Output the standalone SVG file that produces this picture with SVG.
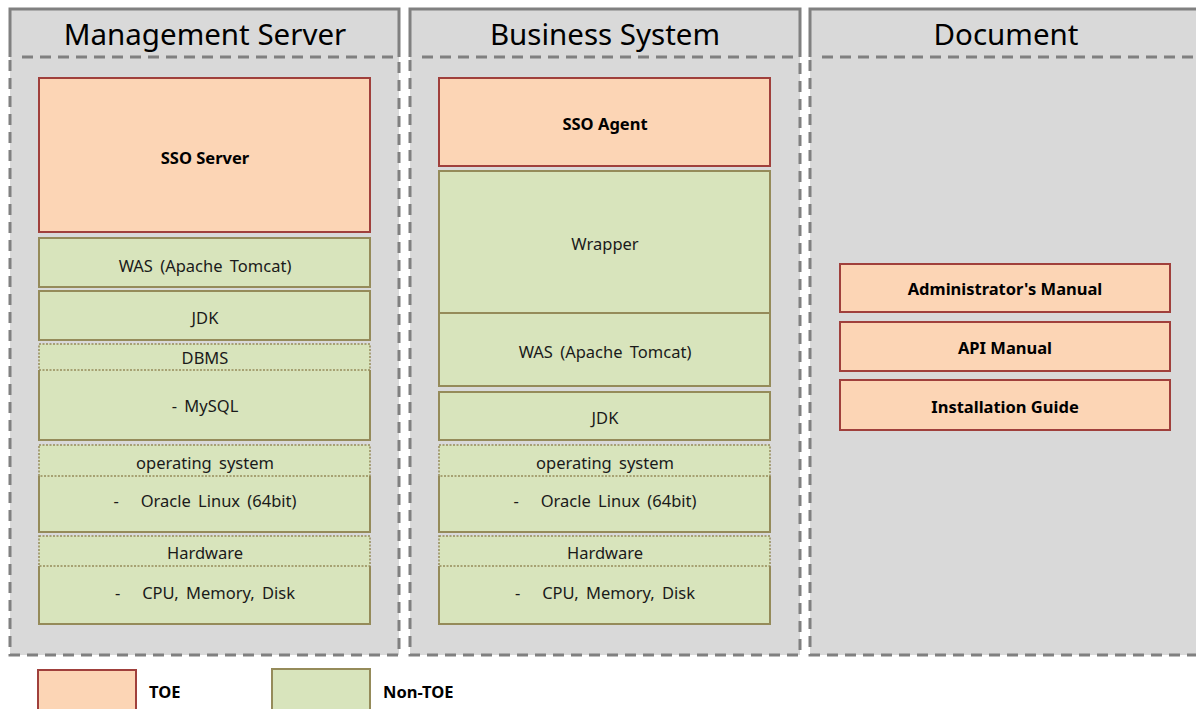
<svg xmlns="http://www.w3.org/2000/svg" width="1196" height="709" viewBox="0 0 1196 709">
  <defs>
    <style>
      .panel { fill: #d9d9d9; }
      .solid { fill: none; stroke: #808080; stroke-width: 3; }
      .dash { fill: none; stroke: #808080; stroke-width: 3; stroke-dasharray: 11 7; }
      .title { font-family: "Noto Sans", "Open Sans", sans-serif; font-size: 29.5px; fill: #000; text-anchor: middle; }
      .toe { fill: #fcd5b5; stroke: #a0403c; stroke-width: 2; }
      .non { fill: #d8e4bc; stroke: #958b5a; stroke-width: 2; }
      .nonline { fill: none; stroke: #958b5a; stroke-width: 2; }
      .dot { fill: none; stroke: #958b5a; stroke-width: 1.5; stroke-dasharray: 2 1.5; }
      .lbl { font-family: "Noto Sans", "Open Sans", sans-serif; font-size: 16.5px; fill: #1a1a1a; text-anchor: middle; dominant-baseline: central; word-spacing: 3px; }
      .bold { font-family: "Noto Sans", "Open Sans", sans-serif; font-size: 16.5px; font-weight: bold; fill: #000; text-anchor: middle; dominant-baseline: central; }
      .leg { font-family: "Noto Sans", "Open Sans", sans-serif; font-size: 16.5px; font-weight: bold; fill: #000; dominant-baseline: central; }
    </style>
  </defs>

  <rect width="1196" height="709" fill="#ffffff"/>

  <!-- Column: Management Server -->
  <g id="col-management">
    <rect class="panel" x="10" y="9" width="389" height="646"/>
    <path class="solid" d="M10,57 V9 H399 V57"/>
    <line class="dash" x1="22" y1="57" x2="399" y2="57"/>
    <path class="dash" d="M10,60 V655 H399 V60"/>
    <text class="title" x="205" y="45">Management Server</text>
  </g>

  <!-- Column: Business System -->
  <g id="col-business">
    <rect class="panel" x="410" y="9" width="390" height="646"/>
    <path class="solid" d="M410,57 V9 H800 V57"/>
    <line class="dash" x1="422" y1="57" x2="800" y2="57"/>
    <path class="dash" d="M410,60 V655 H800 V60"/>
    <text class="title" x="605" y="45">Business System</text>
  </g>

  <!-- Column: Document -->
  <g id="col-document">
    <rect class="panel" x="810" y="9" width="390" height="646"/>
    <path class="solid" d="M810,57 V9 H1200"/>
    <line class="dash" x1="822" y1="57" x2="1196" y2="57"/>
    <path class="dash" d="M810,60 V655 H1200"/>
    <text class="title" x="1006" y="45">Document</text>
  </g>

  <!-- Management Server stack -->
  <g id="sso-server">
    <rect class="toe" x="39" y="78" width="331" height="154"/>
    <text class="bold" x="205" y="157">SSO Server</text>
  </g>
  <g id="ms-was">
    <rect class="non" x="39" y="238" width="331" height="49"/>
    <text class="lbl" x="205" y="265">WAS (Apache Tomcat)</text>
  </g>
  <g id="ms-jdk">
    <rect class="non" x="39" y="291" width="331" height="49"/>
    <text class="lbl" x="205" y="317">JDK</text>
  </g>
  <g id="ms-dbms">
    <rect fill="#d8e4bc" x="39" y="344" width="331" height="96"/>
    <path class="nonline" d="M39,370 V440 H370 V370"/>
    <rect class="dot" x="39" y="344" width="331" height="26"/>
    <text class="lbl" x="205" y="357">DBMS</text>
    <text class="lbl" x="205" y="405">- MySQL</text>
  </g>
  <g id="ms-os">
    <rect fill="#d8e4bc" x="39" y="445" width="331" height="87"/>
    <path class="nonline" d="M39,476 V532 H370 V476"/>
    <rect class="dot" x="39" y="445" width="331" height="31"/>
    <text class="lbl" x="205" y="462">operating system</text>
    <text class="lbl" x="205" y="500" xml:space="preserve">-   Oracle Linux (64bit)</text>
  </g>
  <g id="ms-hw">
    <rect fill="#d8e4bc" x="39" y="536" width="331" height="88"/>
    <path class="nonline" d="M39,566 V624 H370 V566"/>
    <rect class="dot" x="39" y="536" width="331" height="30"/>
    <text class="lbl" x="205" y="552">Hardware</text>
    <text class="lbl" x="205" y="592" xml:space="preserve">-   CPU, Memory, Disk</text>
  </g>

  <!-- Business System stack -->
  <g id="sso-agent">
    <rect class="toe" x="439" y="78" width="331" height="88"/>
    <text class="bold" x="605" y="123">SSO Agent</text>
  </g>
  <g id="bs-wrapper">
    <rect class="non" x="439" y="171" width="331" height="142"/>
    <text class="lbl" x="605" y="243">Wrapper</text>
  </g>
  <g id="bs-was">
    <rect class="non" x="439" y="313" width="331" height="73"/>
    <text class="lbl" x="605" y="351">WAS (Apache Tomcat)</text>
  </g>
  <g id="bs-jdk">
    <rect class="non" x="439" y="392" width="331" height="48"/>
    <text class="lbl" x="605" y="417">JDK</text>
  </g>
  <g id="bs-os">
    <rect fill="#d8e4bc" x="439" y="445" width="331" height="87"/>
    <path class="nonline" d="M439,476 V532 H770 V476"/>
    <rect class="dot" x="439" y="445" width="331" height="31"/>
    <text class="lbl" x="605" y="462">operating system</text>
    <text class="lbl" x="605" y="500" xml:space="preserve">-   Oracle Linux (64bit)</text>
  </g>
  <g id="bs-hw">
    <rect fill="#d8e4bc" x="439" y="536" width="331" height="88"/>
    <path class="nonline" d="M439,566 V624 H770 V566"/>
    <rect class="dot" x="439" y="536" width="331" height="30"/>
    <text class="lbl" x="605" y="552">Hardware</text>
    <text class="lbl" x="605" y="592" xml:space="preserve">-   CPU, Memory, Disk</text>
  </g>

  <!-- Documents -->
  <g id="doc-admin">
    <rect class="toe" x="840" y="264" width="330" height="48"/>
    <text class="bold" x="1005" y="288">Administrator's Manual</text>
  </g>
  <g id="doc-api">
    <rect class="toe" x="840" y="322" width="330" height="49"/>
    <text class="bold" x="1005" y="347">API Manual</text>
  </g>
  <g id="doc-install">
    <rect class="toe" x="840" y="380" width="330" height="50"/>
    <text class="bold" x="1005" y="406">Installation Guide</text>
  </g>

  <!-- Legend -->
  <g id="legend-toe">
    <rect class="toe" x="38" y="670" width="98" height="45"/>
    <text class="leg" x="149" y="691">TOE</text>
  </g>
  <g id="legend-nontoe">
    <rect class="non" x="272" y="669" width="98" height="46"/>
    <text class="leg" x="383" y="691">Non-TOE</text>
  </g>

  <g id="connectors"/>
</svg>
